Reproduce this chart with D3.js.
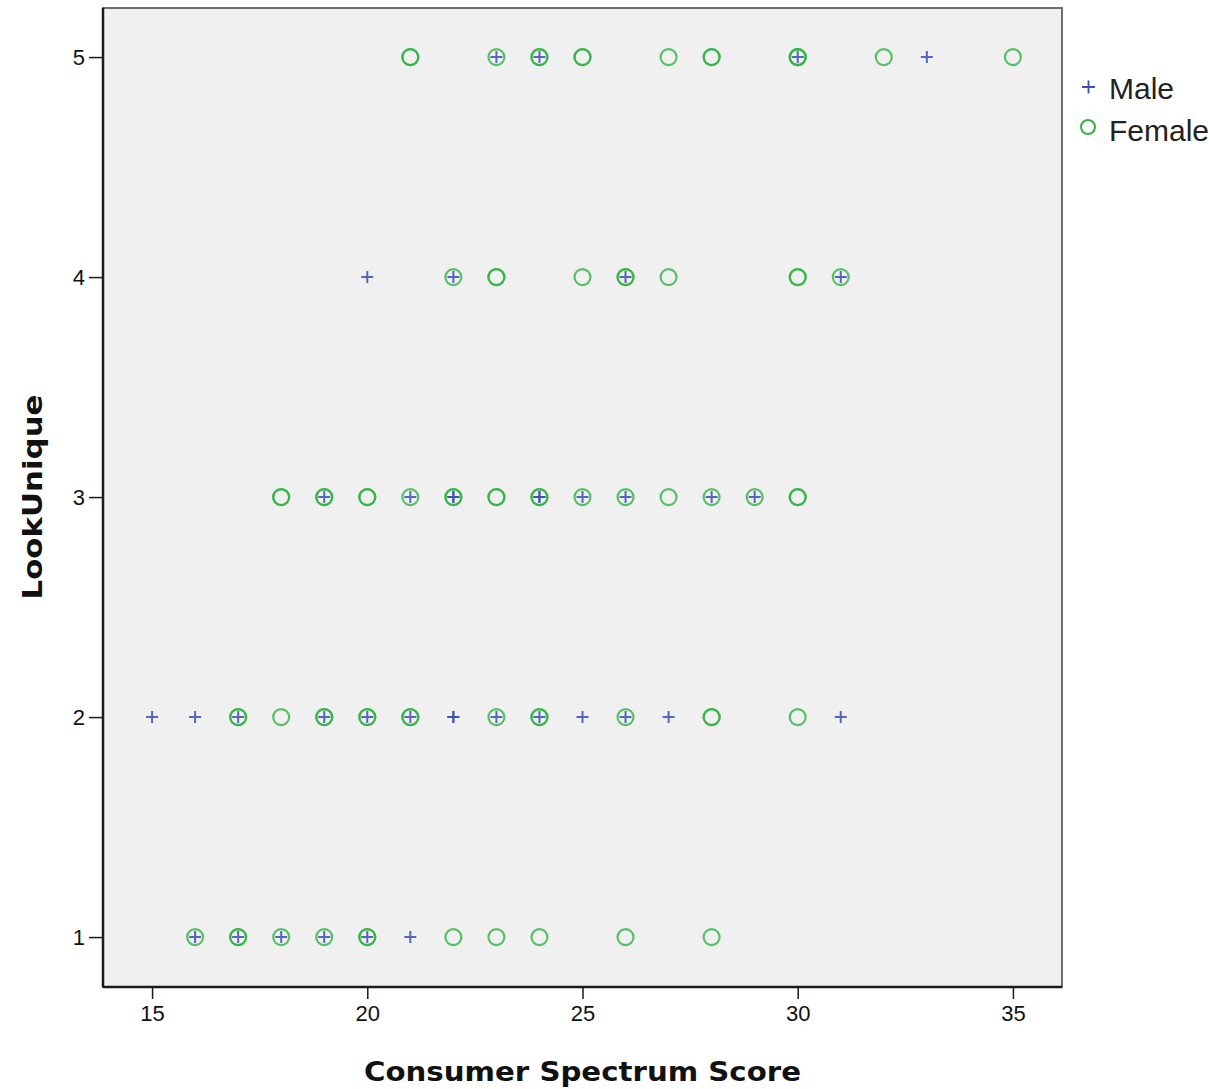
<!DOCTYPE html>
<html><head><meta charset="utf-8">
<script src="https://cdn.jsdelivr.net/npm/d3@7"></script>
<style>body{margin:0;background:#fff;overflow:hidden}</style>
</head><body><svg id="c" width="1209" height="1089"></svg>
<script>
const xTicks = [15, 20, 25, 30, 35];
const yTicks = [1, 2, 3, 4, 5];
const seriesNames = ["Male", "Female"];
const maleX = [23,24,30,33, 20,22,26,31, 19,21,22,22,24,24,25,26,28,29, 15,16,17,19,20,21,22,22,23,24,25,26,27,31, 16,17,18,19,20,21];
const maleY = [5,5,5,5, 4,4,4,4, 3,3,3,3,3,3,3,3,3,3, 2,2,2,2,2,2,2,2,2,2,2,2,2,2, 1,1,1,1,1,1];
const femaleX = [21,21,23,24,24,25,25,27,28,28,30,30,30,32,35, 22,23,23,25,26,26,27,30,30,31, 18,18,19,19,20,20,21,22,22,23,23,24,24,25,26,27,28,29,30,30, 17,17,18,19,19,20,20,21,21,23,24,24,26,28,28,30, 16,17,17,18,19,20,20,22,23,24,26,28];
const femaleY = [5,5,5,5,5,5,5,5,5,5,5,5,5,5,5, 4,4,4,4,4,4,4,4,4,4, 3,3,3,3,3,3,3,3,3,3,3,3,3,3,3,3,3,3,3,3, 2,2,2,2,2,2,2,2,2,2,2,2,2,2,2,2, 1,1,1,1,1,1,1,1,1,1,1,1];

const svg = d3.select("#c");
const L = 103, R = 1062, T = 8, B = 987;
const x = d3.scaleLinear().domain([13.86, 36.14]).range([L, R]);
const y = d3.scaleLinear().domain([0.773, 5.223]).range([B, T]);
const blue = "#3a4fb0", green = "#30b444";

svg.append("rect").attr("x", L).attr("y", T).attr("width", R - L).attr("height", B - T)
  .attr("fill", "#f0f0f0").attr("stroke", "#6e6e6e").attr("stroke-width", 2);

const font = "'Liberation Sans', Arial, sans-serif";
const xa = svg.append("g").attr("transform", `translate(0,${B})`)
  .call(d3.axisBottom(x).tickValues(xTicks).tickSize(12).tickPadding(6).tickFormat(d3.format("d")));
const ya = svg.append("g").attr("transform", `translate(${L},0)`)
  .call(d3.axisLeft(y).tickValues(yTicks).tickSize(14).tickPadding(4).tickFormat(d3.format("d")));
[xa, ya].forEach(a => {
  a.select(".domain").attr("stroke", "#1a1a1a").attr("stroke-width", 2.5);
  a.selectAll(".tick line").attr("stroke", "#1a1a1a").attr("stroke-width", 1.5);
  a.selectAll(".tick text").attr("font-family", font).attr("font-size", 22).attr("fill", "#111");
});
xa.select(".domain").attr("d", `M${L},0H${R}`);
ya.select(".domain").attr("d", `M0,${T}V${B}`);

const g = svg.append("g");
g.selectAll("circle.f").data(femaleX.map((v, i) => [v, femaleY[i]])).join("circle")
  .attr("class", "f").attr("cx", d => x(d[0])).attr("cy", d => y(d[1])).attr("r", 8)
  .attr("fill", "none").attr("stroke", green).attr("stroke-width", 2.2).attr("stroke-opacity", 0.8);
g.selectAll("path.m").data(maleX.map((v, i) => [v, maleY[i]])).join("path")
  .attr("class", "m").attr("d", d => `M${x(d[0]) - 6},${y(d[1])}h12M${x(d[0])},${y(d[1]) - 6}v12`)
  .attr("stroke", blue).attr("stroke-width", 2).attr("stroke-opacity", 0.85);

svg.append("text").attr("x", (x(13.86) + x(36.14)) / 2 + 0).attr("y", 1081)
  .attr("text-anchor", "middle").attr("font-family", "'DejaVu Sans', Verdana, sans-serif")
  .attr("font-weight", "bold").attr("font-size", 27).attr("fill", "#111").text("Consumer Spectrum Score")
  .attr("textLength", 437).attr("lengthAdjust", "spacingAndGlyphs");
svg.append("text").attr("transform", "translate(42,497) rotate(-90)")
  .attr("text-anchor", "middle").attr("font-family", "'DejaVu Sans', Verdana, sans-serif")
  .attr("font-weight", "bold").attr("font-size", 27).attr("fill", "#111").text("LookUnique")
  .attr("textLength", 205).attr("lengthAdjust", "spacingAndGlyphs");

const lg = svg.append("g");
lg.append("path").attr("d", "M1082,87h13M1088.5,80.5v13").attr("stroke", blue).attr("stroke-width", 1.8);
lg.append("circle").attr("cx", 1088).attr("cy", 127).attr("r", 7).attr("fill", "none").attr("stroke", green).attr("stroke-width", 2);
lg.append("text").attr("x", 1109).attr("y", 99).attr("font-family", font).attr("font-size", 30).attr("fill", "#222").text(seriesNames[0]);
lg.append("text").attr("x", 1109).attr("y", 141).attr("font-family", font).attr("font-size", 30).attr("fill", "#222").text(seriesNames[1]);
</script></body></html>
